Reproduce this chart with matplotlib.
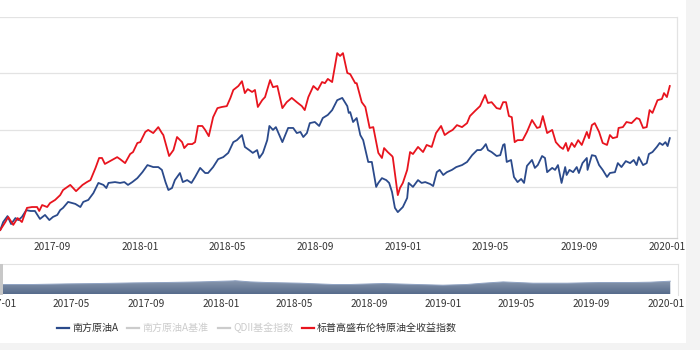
import numpy as np
import pandas as pd
import matplotlib
matplotlib.use("Agg")
import matplotlib.pyplot as plt
from matplotlib.lines import Line2D
from matplotlib.patches import Rectangle, Polygon

plt.rcParams['font.family'] = ['Noto Sans CJK SC', 'DejaVu Sans']

# ---------------- data ----------------
START = pd.Timestamp("2017-06-21")

# 标普高盛布伦特原油全收益指数 (red): day offset from START, value
red_days = [0, 7, 11, 18, 24, 30, 37, 44, 51, 54, 58, 65, 69, 76, 83, 87, 97, 105, 114, 120,
            125, 132, 137, 141, 145, 152, 162, 166, 173, 180, 184, 190, 194, 201, 205, 212, 219,
            224, 226, 234, 240, 245, 252, 255, 260, 266, 270, 274, 280, 284, 289, 295, 301, 307,
            314, 319, 323, 330, 335, 339, 343, 349, 353, 357, 363, 367, 374, 378, 384, 391, 397,
            404, 411, 418, 422, 427, 434, 440, 446, 450, 454, 460, 467, 471, 475, 481, 485, 492,
            494, 501, 506, 512, 517, 524, 529, 532, 537, 543, 544, 551, 554, 558, 564, 568, 572,
            579, 586, 591, 598, 604, 611, 616, 622, 627, 633, 640, 647, 651, 658, 665, 672, 676,
            681, 688, 693, 697, 701, 705, 709, 713, 717, 724, 730, 737, 744, 748, 752, 758, 765,
            770, 776, 780, 784, 787, 792, 796, 801, 806, 813, 816, 820, 824, 830, 835, 841, 845,
            849, 855, 857, 863, 868, 875, 882, 886, 891, 896, 900, 904, 911, 917, 920, 924, 928]
red_vals = [0.647, 0.675, 0.693, 0.665, 0.689, 0.675, 0.725, 0.728, 0.728, 0.714, 0.735, 0.728,
            0.742, 0.753, 0.770, 0.788, 0.806, 0.784, 0.806, 0.816, 0.823, 0.866, 0.901, 0.901,
            0.880, 0.890, 0.904, 0.897, 0.883, 0.915, 0.922, 0.954, 0.957, 0.993, 1.000, 0.989,
            1.010, 0.989, 0.982, 0.908, 0.929, 0.975, 0.957, 0.936, 0.950, 0.950, 0.957, 1.014,
            1.014, 1.000, 0.978, 1.045, 1.077, 1.081, 1.084, 1.113, 1.141, 1.155, 1.172, 1.130,
            1.144, 1.134, 1.141, 1.081, 1.105, 1.116, 1.176, 1.151, 1.155, 1.077, 1.098, 1.113,
            1.098, 1.084, 1.070, 1.116, 1.155, 1.141, 1.169, 1.165, 1.180, 1.169, 1.271, 1.261,
            1.271, 1.201, 1.197, 1.165, 1.165, 1.098, 1.081, 1.007, 1.010, 0.919, 0.901, 0.936,
            0.922, 0.908, 0.904, 0.770, 0.795, 0.813, 0.859, 0.922, 0.915, 0.940, 0.922, 0.947,
            0.940, 0.989, 1.014, 0.982, 0.993, 1.000, 1.017, 1.010, 1.024, 1.049, 1.067, 1.084,
            1.123, 1.095, 1.098, 1.077, 1.074, 1.098, 1.098, 1.049, 1.045, 0.957, 0.964, 0.964,
            0.993, 1.035, 1.007, 1.010, 1.049, 0.989, 1.000, 0.957, 0.940, 0.933, 0.954, 0.926,
            0.954, 0.940, 0.964, 0.947, 0.993, 0.971, 1.017, 1.024, 0.993, 0.954, 0.947, 0.982,
            0.971, 0.975, 1.007, 1.010, 1.028, 1.024, 1.042, 1.038, 1.007, 1.010, 1.070, 1.060,
            1.105, 1.109, 1.130, 1.116, 1.155]

# 南方原油A (blue)
blue_days = [0, 4, 10, 15, 21, 25, 30, 36, 42, 48, 55, 62, 68, 73, 79, 83, 87, 94, 104, 111,
             115, 122, 129, 136, 143, 147, 150, 159, 166, 172, 177, 183, 190, 197, 204, 212, 219,
             224, 229, 233, 238, 242, 249, 253, 259, 265, 270, 277, 284, 288, 295, 302, 309, 316,
             323, 328, 335, 339, 345, 350, 356, 359, 364, 370, 373, 378, 382, 391, 395, 399, 406,
             411, 416, 420, 425, 429, 436, 442, 447, 454, 460, 467, 474, 481, 483, 485, 489, 494,
             499, 503, 510, 515, 521, 524, 529, 535, 539, 543, 547, 551, 558, 564, 566, 572, 579,
             584, 589, 596, 600, 605, 609, 614, 619, 626, 632, 640, 647, 654, 661, 666, 669, 673,
             676, 681, 688, 693, 697, 699, 702, 708, 712, 717, 722, 726, 730, 737, 741, 745, 751,
             755, 758, 765, 769, 773, 778, 783, 785, 789, 794, 799, 802, 807, 813, 814, 820, 825,
             830, 835, 841, 845, 852, 856, 861, 867, 873, 878, 882, 885, 891, 896, 899, 904, 910,
             914, 918, 922, 925, 928]
blue_vals = [0.647, 0.675, 0.696, 0.668, 0.689, 0.682, 0.693, 0.717, 0.714, 0.714, 0.686, 0.700,
             0.682, 0.693, 0.700, 0.717, 0.725, 0.746, 0.739, 0.728, 0.746, 0.753, 0.777, 0.813,
             0.806, 0.795, 0.813, 0.816, 0.813, 0.816, 0.806, 0.816, 0.830, 0.851, 0.876, 0.869,
             0.869, 0.859, 0.816, 0.788, 0.795, 0.823, 0.848, 0.816, 0.823, 0.813, 0.834, 0.866,
             0.848, 0.848, 0.869, 0.897, 0.904, 0.919, 0.957, 0.964, 0.982, 0.940, 0.929, 0.919,
             0.929, 0.901, 0.919, 0.964, 1.014, 1.000, 1.010, 0.957, 0.982, 1.007, 1.007, 0.989,
             0.993, 0.975, 0.989, 1.024, 1.028, 1.014, 1.042, 1.053, 1.070, 1.105, 1.113, 1.084,
             1.060, 1.063, 1.028, 1.042, 0.982, 0.964, 0.887, 0.887, 0.799, 0.813, 0.830, 0.823,
             0.813, 0.781, 0.725, 0.710, 0.728, 0.760, 0.813, 0.799, 0.823, 0.813, 0.816, 0.809,
             0.802, 0.851, 0.859, 0.841, 0.851, 0.859, 0.869, 0.876, 0.887, 0.911, 0.929, 0.929,
             0.936, 0.950, 0.929, 0.922, 0.908, 0.911, 0.947, 0.950, 0.887, 0.894, 0.834, 0.816,
             0.827, 0.813, 0.873, 0.894, 0.866, 0.876, 0.908, 0.901, 0.851, 0.866, 0.859, 0.876,
             0.813, 0.869, 0.841, 0.859, 0.851, 0.869, 0.848, 0.883, 0.901, 0.859, 0.911, 0.908,
             0.876, 0.859, 0.834, 0.848, 0.851, 0.883, 0.869, 0.890, 0.883, 0.894, 0.876, 0.904,
             0.876, 0.883, 0.915, 0.922, 0.940, 0.954, 0.947, 0.957, 0.943, 0.971]

# overview (dataZoom slider) series, day offset from 2017-01-01
SLIDER_START = pd.Timestamp("2017-01-01")
slider_days = [-5, 2, 57, 112, 166, 221, 276, 331, 385, 388, 413, 440, 495, 549, 577, 631, 686,
               729, 768, 795, 828, 877, 933, 987, 1041, 1069, 1102]
slider_vals = [1.00, 1.00, 1.00, 1.06, 1.10, 1.16, 1.20, 1.26, 1.36, 1.38, 1.26, 1.20, 1.13,
               1.00, 1.00, 1.10, 1.00, 0.93, 1.00, 1.13, 1.26, 1.13, 1.13, 1.20, 1.20, 1.23, 1.33]

main_ticks = ["2017-09", "2018-01", "2018-05", "2018-09", "2019-01", "2019-05", "2019-09", "2020-01"]
slider_ticks = ["2017-01", "2017-05", "2017-09", "2018-01", "2018-05", "2018-09", "2019-01",
                "2019-05", "2019-09", "2020-01"]
grid_vals = [0.8, 1.0, 1.2, 1.4]

legend_labels = ["南方原油A", "南方原油A基准", "QDII基金指数", "标普高盛布伦特原油全收益指数"]
legend_colors = ["#2b4a8b", "#cccccc", "#cccccc", "#e8141e"]
legend_text_colors = ["#333333", "#cccccc", "#cccccc", "#333333"]

BLUE = "#2b4a8b"
RED = "#e8141e"

# ---------------- figure ----------------
W, H = 700, 350
fig = plt.figure(figsize=(7, 3.5), dpi=100)
fig.patch.set_facecolor("white")

def fx(px):
    return px / W

def fy(py):
    return 1 - py / H

# background strips
fig.patches.append(Rectangle((fx(686), 0), 1, 1, transform=fig.transFigure,
                             facecolor="#f3f3f3", edgecolor="none", zorder=0))
fig.patches.append(Rectangle((0, 0), 1, fy(343), transform=fig.transFigure,
                             facecolor="#f3f3f3", edgecolor="none", zorder=0))

# ---------------- main axes ----------------
ax = fig.add_axes([fx(0), fy(238), fx(677), (238 - 17) / H])
ax.set_facecolor("white")
rd = START + pd.to_timedelta(red_days, unit="D")
bd = START + pd.to_timedelta(blue_days, unit="D")
ax.plot(bd, blue_vals, color=BLUE, lw=1.3, zorder=3, solid_joinstyle="round")
ax.plot(rd, red_vals, color=RED, lw=1.3, zorder=4, solid_joinstyle="round")

ax.set_xlim(START - pd.Timedelta(days=0.4), START + pd.Timedelta(days=938))
ax.set_ylim(0.6187, 1.3985)
for g in grid_vals:
    ax.axhline(g, color="#e3e3e3", lw=0.9, zorder=1)
ax.set_yticks([])
for s in ["top", "left"]:
    ax.spines[s].set_visible(False)
ax.spines["bottom"].set_color("#d0d0d0")
ax.spines["bottom"].set_linewidth(0.9)
ax.spines["right"].set_color("#e3e3e3")
ax.spines["right"].set_linewidth(0.9)
ax.set_xticks([pd.Timestamp(t + "-01") for t in main_ticks])
ax.set_xticklabels(main_ticks)
ax.tick_params(axis="x", length=0, pad=3, labelsize=7.3, labelcolor="#333333")

# ---------------- slider axes ----------------
sx = fig.add_axes([fx(-3), fy(294.5), fx(681), (294.5 - 264) / H])
sx.set_facecolor("white")
sd = SLIDER_START + pd.to_timedelta(slider_days, unit="D")
sx.set_xlim(SLIDER_START - pd.Timedelta(days=2.46), SLIDER_START + pd.Timedelta(days=1114.7))
sx.set_ylim(0, 3.05)
poly = sx.fill_between(sd, 0, slider_vals, color="none", zorder=2)
grad = np.linspace(0, 1, 256).reshape(-1, 1)
from matplotlib.colors import LinearSegmentedColormap
cmap = LinearSegmentedColormap.from_list("g", ["#566b8b", "#8e9cb1"])
xl = sx.get_xlim()
im = sx.imshow(grad, cmap=cmap, aspect="auto", extent=[xl[0], xl[1], 1.45, 0],
               origin="upper", zorder=2)
path = poly.get_paths()[0]
from matplotlib.patches import PathPatch
clip = PathPatch(path, transform=sx.transData, facecolor="none", edgecolor="none")
sx.add_patch(clip)
im.set_clip_path(clip)
sx.set_ylim(0, 3.05)
sx.set_xlim(*xl)
sx.plot(sd, slider_vals, color="#8fa2c2", lw=0.7, zorder=3)
for s in ["top", "right", "left"]:
    sx.spines[s].set_color("#e2e2e2")
    sx.spines[s].set_linewidth(0.8)
sx.spines["bottom"].set_visible(False)
sx.set_yticks([])
sx.set_xticks([pd.Timestamp(t + "-01") for t in slider_ticks])
sx.set_xticklabels(slider_ticks)
sx.tick_params(axis="x", length=0, pad=3, labelsize=7.3, labelcolor="#333333")
# left handle
fig.patches.append(Rectangle((fx(0), fy(294.5)), fx(3), (294.5 - 264) / H,
                             transform=fig.transFigure, facecolor="#c8c8c8",
                             edgecolor="none", zorder=5))

# ---------------- legend ----------------
leg_line_x = [57, 127, 218, 302]
leg_text_x = [72, 142, 233, 317]
ly = fy(327.5)
for lx, tx, lab, c, tc in zip(leg_line_x, leg_text_x, legend_labels, legend_colors, legend_text_colors):
    fig.add_artist(Line2D([fx(lx), fx(lx + 12)], [ly, ly], transform=fig.transFigure,
                          color=c, lw=1.6))
    fig.text(fx(tx), ly, lab, ha="left", va="center", fontsize=7.2, color=tc)

fig.savefig("out.png", dpi=100)
